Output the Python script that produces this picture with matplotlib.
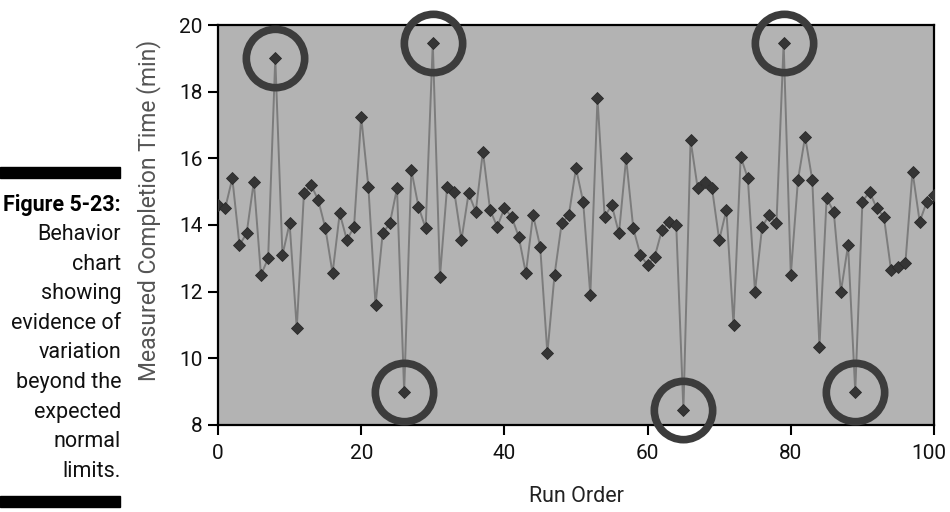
import matplotlib
matplotlib.use("Agg")
import matplotlib.pyplot as plt
from matplotlib.patches import Rectangle
from matplotlib.transforms import ScaledTranslation

run_order = list(range(0, 101))
completion_time = [
    14.6, 14.5, 15.4, 13.4, 13.75, 15.3, 12.5, 13.0, 19.0, 13.1,
    14.05, 10.9, 14.95, 15.2, 14.75, 13.9, 12.55, 14.35, 13.55, 13.95,
    17.25, 15.15, 11.6, 13.75, 14.05, 15.1, 9.0, 15.65, 14.55, 13.9,
    19.45, 12.45, 15.15, 15.0, 13.55, 14.95, 14.4, 16.2, 14.45, 13.95,
    14.5, 14.25, 13.65, 12.55, 14.3, 13.35, 10.15, 12.5, 14.05, 14.3,
    15.7, 14.7, 11.9, 17.8, 14.25, 14.6, 13.75, 16.0, 13.9, 13.1,
    12.8, 13.05, 13.85, 14.1, 14.0, 8.45, 16.55, 15.1, 15.3, 15.1,
    13.55, 14.45, 11.0, 16.05, 15.4, 12.0, 13.95, 14.3, 14.05, 19.45,
    12.5, 15.35, 16.65, 15.35, 10.35, 14.8, 14.4, 12.0, 13.4, 9.0,
    14.7, 15.0, 14.5, 14.25, 12.65, 12.75, 12.85, 15.6, 14.1, 14.7,
    14.9,
]
highlighted_runs = [8, 26, 30, 65, 79, 89]
x_ticks = [0, 20, 40, 60, 80, 100]
y_ticks = [8, 10, 12, 14, 16, 18, 20]
caption_title = "Figure 5-23:"
caption_lines = ["Behavior", "chart", "showing", "evidence of", "variation",
                 "beyond the", "expected", "normal", "limits."]

plt.rcParams["font.family"] = ["Roboto", "DejaVu Sans"]

fig = plt.figure(figsize=(9.5, 5.12), dpi=100)
W, H = 950, 512
ax = fig.add_axes([218 / W, 1 - 425 / H, (934 - 218) / W, (425 - 25) / H])
ax.set_facecolor("#b3b3b3")

ax.plot(run_order, completion_time, color="#7c7c7c", lw=1.4, zorder=2)
ax.plot(run_order, completion_time, linestyle="none", marker="D", ms=5.8,
        mfc="#353535", mec="#2a2a2a", mew=0.6, zorder=3)

hx = [run_order[i] for i in highlighted_runs]
hy = [completion_time[i] for i in highlighted_runs]
ax.plot(hx, hy, linestyle="none", marker="o", ms=42, mfc="none",
        mec="#3c3c3c", mew=5.5, zorder=5, clip_on=False)

ax.set_xlim(0, 100)
ax.set_ylim(8, 20)
ax.set_xticks(x_ticks)
ax.set_yticks(y_ticks)
ax.tick_params(axis="both", direction="out", length=7, width=1.5,
               color="black", labelsize=15, labelcolor="#111111")
ax.tick_params(axis="x", pad=7)
ax.tick_params(axis="y", pad=4)
for s in ax.spines.values():
    s.set_linewidth(1.6)
    s.set_color("black")

# keep the last x tick label inside the figure
fig.canvas.draw()
last_lbl = ax.get_xticklabels()[-1]
last_lbl.set_transform(last_lbl.get_transform() +
                       ScaledTranslation(-5 / 100, 0, fig.dpi_scale_trans))

ax.set_xlabel("Run Order", fontsize=15.5, color="#222222", labelpad=16)
fig.text(149 / W, 1 - 210 / H, "Measured Completion Time (min)", rotation=90,
         ha="center", va="center", fontsize=16.5, color="#555555")

# caption block on the left
fig.patches.append(Rectangle((0, 1 - 178 / H), 120 / W, 11 / H,
                             transform=fig.transFigure, color="black"))
fig.patches.append(Rectangle((0, 1 - 507 / H), 120 / W, 11 / H,
                             transform=fig.transFigure, color="black"))
y0 = 205
step = 29.6
fig.text(121 / W, 1 - y0 / H, caption_title, ha="right", va="center",
         fontsize=15.5, fontweight="bold", color="black")
for i, line in enumerate(caption_lines):
    fig.text(121 / W, 1 - (y0 + step * (i + 1)) / H, line, ha="right",
             va="center", fontsize=15.5, color="#111111")

fig.savefig("out.png", dpi=100)
